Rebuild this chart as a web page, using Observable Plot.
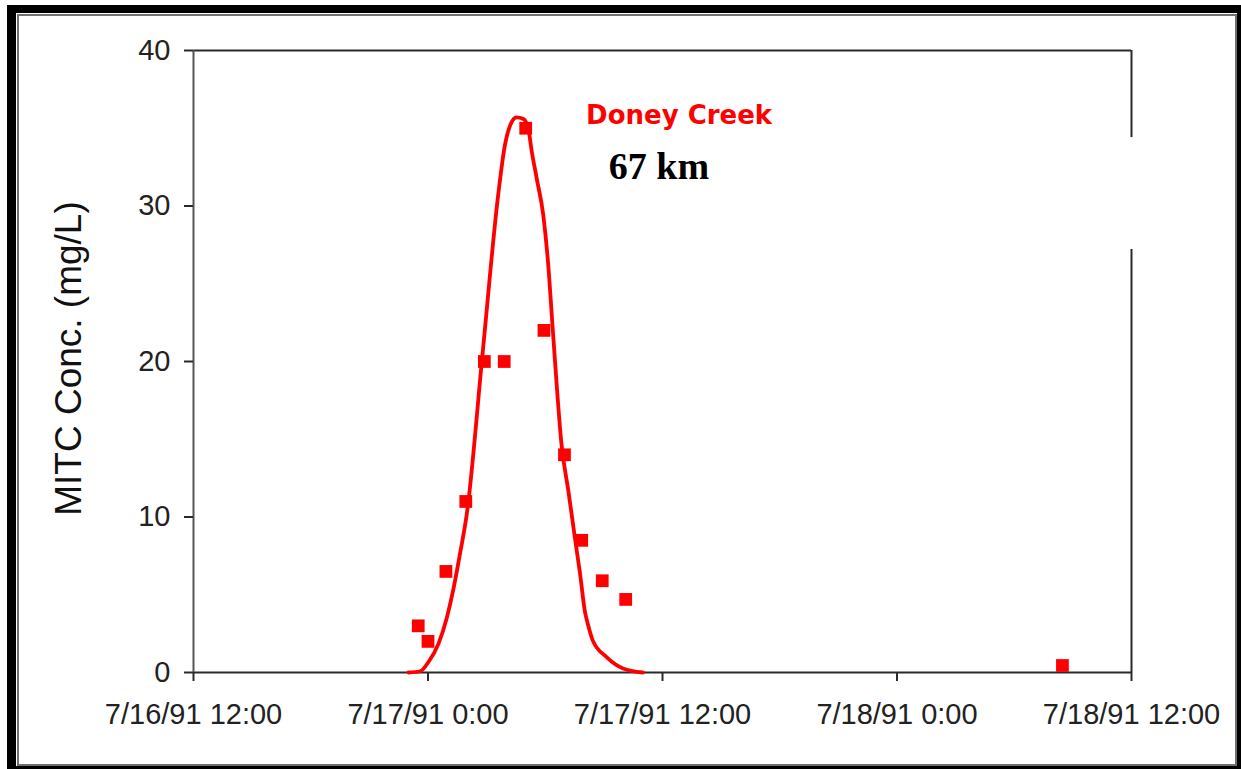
<!DOCTYPE html>
<html><head><meta charset="utf-8">
<script src="https://cdn.jsdelivr.net/npm/d3@7"></script>
<script src="https://cdn.jsdelivr.net/npm/@observablehq/plot@0.6"></script>
<style>
html,body{margin:0;padding:0;background:#fff;width:1241px;height:769px;overflow:hidden;}
#wrap{position:relative;width:1241px;height:769px;}
#chart{position:absolute;left:0;top:0;}
#frame{position:absolute;left:7px;top:5px;right:0;bottom:0;border-style:solid;border-color:#000;border-width:8px 4px 3px 9px;box-sizing:border-box;pointer-events:none;}
#frame2{position:absolute;left:1px;top:1px;right:0;bottom:0;border:2px solid #707070;}
</style></head>
<body><div id="wrap"><div id="chart"></div><div id="frame"><div id="frame2"></div></div></div>
<script>
// Observed MITC concentrations (squares)
const obsTime = ["1991-07-16T23:30Z","1991-07-17T00:00Z","1991-07-17T00:55Z","1991-07-17T01:56Z","1991-07-17T02:53Z","1991-07-17T03:54Z","1991-07-17T05:00Z","1991-07-17T05:56Z","1991-07-17T06:59Z","1991-07-17T07:52Z","1991-07-17T08:55Z","1991-07-17T10:07Z","1991-07-18T08:28Z"];
const obsConc = [3.0, 2.0, 6.5, 11.0, 20.0, 20.0, 35.0, 22.0, 14.0, 8.5, 5.9, 4.7, 0.45];

// Modelled curve (line)
const modelTime = ["1991-07-16T23:00Z","1991-07-16T23:36Z","1991-07-17T00:01Z","1991-07-17T00:32Z","1991-07-17T00:58Z","1991-07-17T01:17Z","1991-07-17T01:38Z","1991-07-17T01:59Z","1991-07-17T02:48Z","1991-07-17T03:36Z","1991-07-17T03:56Z","1991-07-17T04:12Z","1991-07-17T04:32Z","1991-07-17T04:53Z","1991-07-17T05:08Z","1991-07-17T05:19Z","1991-07-17T05:34Z","1991-07-17T05:54Z","1991-07-17T06:10Z","1991-07-17T06:20Z","1991-07-17T06:30Z","1991-07-17T06:50Z","1991-07-17T07:11Z","1991-07-17T07:31Z","1991-07-17T07:47Z","1991-07-17T08:02Z","1991-07-17T08:11Z","1991-07-17T08:26Z","1991-07-17T09:10Z","1991-07-17T09:59Z","1991-07-17T11:00Z"];
const modelConc = [0, 0.08, 0.66, 1.84, 3.54, 5.26, 7.61, 10.17, 20.6, 30.8, 33.9, 35.17, 35.7, 35.6, 34.96, 33.46, 31.75, 29.4, 26.0, 23.0, 20.0, 14.66, 11.67, 8.67, 6.33, 3.9, 3.1, 2.05, 0.96, 0.26, 0];

// Axis ticks
const xTicks = ["1991-07-16T12:00Z","1991-07-17T00:00Z","1991-07-17T12:00Z","1991-07-18T00:00Z","1991-07-18T12:00Z"];
const yTicks = [0, 10, 20, 30, 40];
const yLabel = "MITC Conc. (mg/L)";

// Annotations
const annotText = ["Doney Creek", "67 km"];
const annotTime = ["1991-07-17T12:51Z", "1991-07-17T11:49Z"];
const annotConc = [35.83, 32.5];

// Right frame edge segments (gap in the original)
const rightEdgeFrom = [40, 27.2];
const rightEdgeTo = [34.4, 0];

const P = s => new Date(s);
const obs = obsTime.map((t, i) => ({t: P(t), v: obsConc[i]}));
const model = modelTime.map((t, i) => ({t: P(t), v: modelConc[i]}));
const ticks = xTicks.map(P);
const annots = annotText.map((s, i) => ({s, t: P(annotTime[i]), v: annotConc[i]}));
const rightEdge = rightEdgeFrom.map((a, i) => ({y1: a, y2: rightEdgeTo[i]}));
const xStart = ticks[0], xEnd = ticks[ticks.length - 1];
const fmt = d3.utcFormat("%-m/%-d/%y %-H:%M");
const axisColor = "#2a2a2a";

const chart = Plot.plot({
  width: 1241, height: 769,
  marginLeft: 193, marginRight: 110, marginTop: 50, marginBottom: 97,
  x: {type: "utc", domain: [xStart, xEnd]},
  y: {domain: [0, 40]},
  style: {fontFamily: "'Liberation Sans', Arial, sans-serif", fontSize: "29px", color: "#222", background: "transparent", overflow: "visible"},
  marks: [
    Plot.ruleY([0, 40], {stroke: axisColor, strokeWidth: 2}),
    Plot.ruleX([xStart], {y1: 0, y2: 40, stroke: "#555", strokeWidth: 2}),
    Plot.ruleX(rightEdge, {x: () => xEnd, y1: "y1", y2: "y2", stroke: axisColor, strokeWidth: 2}),
    Plot.axisY({ticks: yTicks, tickSize: 9, tickPadding: 14, label: null, fontSize: 29, stroke: axisColor, strokeWidth: 2}),
    Plot.axisX({ticks: ticks, tickFormat: fmt, tickSize: 9, tickPadding: 22, label: null, fontSize: 29, stroke: axisColor, strokeWidth: 2}),
    Plot.text([yLabel], {frameAnchor: "left", textAnchor: "middle", text: d => d, rotate: -90, dx: -124, dy: -3, fontSize: 37, fill: "#111"}),
    Plot.line(model, {x: "t", y: "v", stroke: "#ff0000", strokeWidth: 3.8, curve: "monotone-x"}),
    Plot.dot(obs, {x: "t", y: "v", symbol: "square", r: 7.2, fill: "#ff0000", stroke: "none"}),
    Plot.text(annots.slice(0, 1), {x: "t", y: "v", text: "s", fill: "#ff0000", fontSize: 26, fontWeight: "bold", fontFamily: "'DejaVu Sans', Verdana, sans-serif"}),
    Plot.text(annots.slice(1), {x: "t", y: "v", text: "s", fill: "#000", fontSize: 38, fontWeight: "bold", fontFamily: "'Liberation Serif', 'Times New Roman', serif"})
  ]
});
document.getElementById("chart").appendChild(chart);
</script>
</body></html>
